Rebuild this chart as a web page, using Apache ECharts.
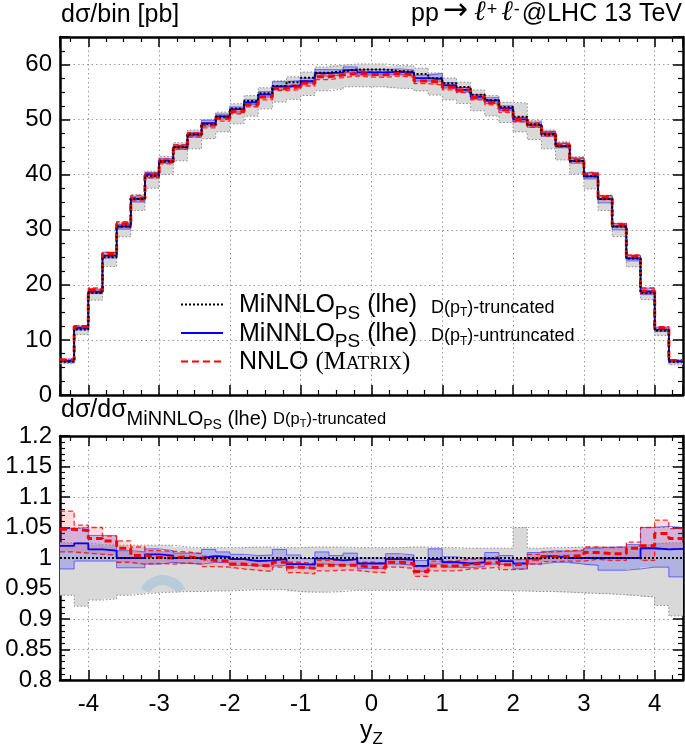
<!DOCTYPE html>
<html>
<head>
<meta charset="utf-8">
<title>y_Z distribution</title>
<script src="https://cdn.jsdelivr.net/npm/echarts@6/dist/echarts.min.js"></script>
<style>
html, body { margin: 0; padding: 0; background: #fff; }
#chart { width: 685px; height: 744px; }
</style>
</head>
<body>
<div id="chart"></div>
<script>
// bin edges in y_Z
const binEdges = [-4.4, -4.2, -4.0, -3.8, -3.6, -3.4, -3.2, -3.0, -2.8, -2.6, -2.4, -2.2, -2.0, -1.8, -1.6, -1.4, -1.2, -1.0, -0.8, -0.6, -0.4, -0.2,
  0, 0.2, 0.4, 0.6, 0.8, 1.0, 1.2, 1.4, 1.6, 1.8, 2.0, 2.2, 2.4, 2.6, 2.8, 3.0, 3.2, 3.4, 3.6, 3.8, 4.0, 4.2, 4.4]

// dσ/bin [pb], MiNNLO_PS (lhe) D(pT)-truncated
const topTrunc = [6.05, 11.9, 18.5, 25.0, 30.6, 35.6, 39.8, 42.4, 45.0, 47.3, 49.2, 50.5, 52.0, 53.4, 54.8, 56.1, 56.8, 57.6, 58.5, 58.8, 59.1, 59.1,
  59.1, 58.8, 58.7, 58.3, 57.5, 56.6, 55.9, 54.5, 53.5, 52.3, 50.5, 49.1, 47.3, 45.2, 42.5, 39.7, 35.6, 30.6, 24.8, 18.5, 11.7, 6.05]

// ratios to the truncated MiNNLO_PS central value
const truncRatio = [1, 1, 1, 1, 1, 1, 1, 1, 1, 1, 1, 1, 1, 1, 1, 1, 1, 1, 1, 1, 1, 1,
  1, 1, 1, 1, 1, 1, 1, 1, 1, 1, 1, 1, 1, 1, 1, 1, 1, 1, 1, 1, 1, 1]
const truncLo = [0.939, 0.921, 0.931, 0.933, 0.939, 0.941, 0.943, 0.944, 0.945, 0.945, 0.946, 0.946, 0.947, 0.948, 0.948, 0.948, 0.945, 0.944, 0.944, 0.945, 0.947, 0.947,
  0.947, 0.947, 0.948, 0.947, 0.947, 0.947, 0.947, 0.947, 0.947, 0.946, 0.946, 0.945, 0.945, 0.944, 0.943, 0.942, 0.941, 0.940, 0.938, 0.936, 0.922, 0.905]
const truncHi = [1.025, 1.025, 1.022, 1.021, 1.021, 1.021, 1.021, 1.021, 1.018, 1.017, 1.017, 1.017, 1.017, 1.018, 1.018, 1.017, 1.017, 1.018, 1.018, 1.018, 1.017, 1.017,
  1.017, 1.017, 1.018, 1.018, 1.017, 1.017, 1.016, 1.016, 1.016, 1.016, 1.050, 1.016, 1.017, 1.017, 1.018, 1.018, 1.018, 1.018, 1.020, 1.022, 1.025, 1.025]

// MiNNLO_PS (lhe) D(pT)-untruncated
const untruncRatio = [1.020, 1.024, 1.014, 1.012, 1.000, 1.000, 1.006, 1.004, 1.000, 1.000, 1.003, 1.002, 0.998, 0.995, 0.996, 0.998, 0.990, 0.989, 0.999, 0.996, 0.998, 0.991,
  0.991, 0.998, 0.997, 0.987, 0.998, 0.993, 0.991, 0.993, 0.999, 0.995, 0.991, 0.999, 1.003, 1.000, 1.000, 1.000, 1.000, 1.000, 1.000, 1.016, 1.014, 1.015]
const untruncLo = [0.982, 0.995, 0.995, 0.995, 0.984, 0.984, 0.990, 0.993, 0.991, 0.990, 0.993, 0.992, 0.988, 0.987, 0.987, 0.988, 0.984, 0.983, 0.990, 0.988, 0.990, 0.983,
  0.983, 0.990, 0.988, 0.978, 0.990, 0.985, 0.984, 0.986, 0.990, 0.988, 0.982, 0.990, 0.993, 0.993, 0.990, 0.988, 0.980, 0.980, 0.982, 0.985, 0.985, 0.969]
const untruncHi = [1.048, 1.050, 1.037, 1.037, 1.012, 1.010, 1.015, 1.012, 1.008, 1.008, 1.014, 1.010, 1.006, 1.004, 1.005, 1.014, 1.005, 0.999, 1.010, 1.004, 1.008, 1.000,
  1.000, 1.007, 1.005, 0.996, 1.015, 1.002, 0.999, 1.001, 1.009, 1.004, 0.998, 1.009, 1.012, 1.011, 1.012, 1.016, 1.018, 1.018, 1.022, 1.050, 1.052, 1.050]

// NNLO (MATRIX)
const nnloRatio = [1.047, 1.045, 1.032, 1.028, 1.016, 1.004, 1.001, 1.000, 1.002, 0.999, 0.996, 0.995, 0.990, 0.988, 0.987, 0.993, 0.985, 0.983, 0.988, 0.988, 0.988, 0.985,
  0.984, 0.993, 0.991, 0.978, 0.987, 0.987, 0.990, 0.991, 0.993, 0.989, 0.990, 0.998, 1.002, 1.003, 1.004, 1.009, 1.007, 1.007, 1.016, 1.020, 1.040, 1.032]
const nnloLo = [1.010, 1.008, 1.006, 1.005, 0.993, 0.990, 0.991, 0.990, 0.992, 0.990, 0.986, 0.985, 0.982, 0.980, 0.978, 0.985, 0.976, 0.974, 0.979, 0.980, 0.980, 0.977,
  0.976, 0.985, 0.983, 0.970, 0.979, 0.979, 0.982, 0.983, 0.985, 0.981, 0.982, 0.990, 0.994, 0.995, 0.995, 0.998, 0.996, 0.996, 1.000, 0.996, 1.015, 1.015]
const nnloHi = [1.077, 1.054, 1.050, 1.036, 1.028, 1.018, 1.012, 1.011, 1.010, 1.007, 1.003, 1.002, 0.998, 0.996, 0.995, 1.000, 0.993, 0.991, 0.996, 0.996, 0.997, 0.993,
  0.992, 1.001, 0.999, 0.986, 0.995, 0.995, 0.998, 0.999, 1.002, 0.997, 0.998, 1.006, 1.010, 1.012, 1.013, 1.018, 1.017, 1.018, 1.026, 1.050, 1.062, 1.048]

const xTicks = [-4, -3, -2, -1, 0, 1, 2, 3, 4]

const FONT = "'Liberation Sans', Arial, sans-serif"
const SERIF = "'Liberation Serif', 'Times New Roman', serif"

const chart = echarts.init(document.getElementById("chart"))

// ratio -> absolute value in the upper panel
const toTop = ratio => ratio.map((r, i) => r * topTrunc[i])

const stepPoints = vals => {
  const pts = vals.map((v, i) => [binEdges[i], v])
  pts.push([binEdges[vals.length], vals[vals.length - 1]])
  return pts
}

const stepLine = (name, vals, axis, lineStyle) => ({
  name,
  type: "line",
  xAxisIndex: axis,
  yAxisIndex: axis,
  step: "end",
  symbol: "none",
  showSymbol: false,
  silent: true,
  data: stepPoints(vals),
  itemStyle: { color: lineStyle.color },
  lineStyle
})

// filled band drawn as one stepped polygon (hi edge left->right, lo edge back)
const band = (name, lo, hi, axis, fill) => ({
  name,
  type: "custom",
  xAxisIndex: axis,
  yAxisIndex: axis,
  silent: true,
  clip: true,
  data: lo.map((v, i) => [binEdges[i], binEdges[i + 1], v, hi[i]]),
  encode: { x: [0, 1], y: [2, 3] },
  renderItem: (params, api) => {
    if (params.dataIndex !== 0) return null
    const upper = []
    const lower = []
    hi.forEach((v, i) => {
      upper.push(api.coord([binEdges[i], v]), api.coord([binEdges[i + 1], v]))
    })
    lo.forEach((v, i) => {
      lower.push(api.coord([binEdges[i], v]), api.coord([binEdges[i + 1], v]))
    })
    return {
      type: "polygon",
      shape: { points: upper.concat(lower.reverse()) },
      style: { fill, stroke: null, lineWidth: 0 }
    }
  }
})

const grayEdge = { color: "#8a8a8a", width: 1, type: [1.5, 2] }
const blueEdge = { color: "rgba(40,40,255,0.6)", width: 1 }
const redEdge = { color: "rgba(255,0,0,0.8)", width: 1.3, type: [5, 3] }

// one panel: axis index 0 = upper, 1 = ratio
const panelSeries = (axis, conv, tag) => [
  band("grayband" + tag, conv(truncLo), conv(truncHi), axis, "#d9d9d9"),
  stepLine("graylo" + tag, conv(truncLo), axis, grayEdge),
  stepLine("grayhi" + tag, conv(truncHi), axis, grayEdge),
  band("blueband" + tag, conv(untruncLo), conv(untruncHi), axis, "rgba(60,60,255,0.25)"),
  band("redband" + tag, conv(nnloLo), conv(nnloHi), axis, "rgba(255,40,40,0.17)"),
  stepLine("bluelo" + tag, conv(untruncLo), axis, blueEdge),
  stepLine("bluehi" + tag, conv(untruncHi), axis, blueEdge),
  stepLine("redlo" + tag, conv(nnloLo), axis, redEdge),
  stepLine("redhi" + tag, conv(nnloHi), axis, redEdge),
  stepLine("untrunc" + tag, conv(untruncRatio), axis, { color: "#0000ff", width: 1.8 }),
  stepLine("nnlo" + tag, conv(nnloRatio), axis, { color: "#ff0000", width: 3, type: [7, 4] }),
  stepLine("trunc" + tag, conv(truncRatio), axis, { color: "#000", width: 2, type: [2, 2] })
]

const frameLine = { show: true, onZero: false, lineStyle: { color: "#000", width: 2.5 } }
const gridDots = { show: true, lineStyle: { color: "#9a9a9a", width: 1, type: [1.5, 3] } }

const xAxis = (grid, position, withLabels) => ({
  type: "value",
  gridIndex: grid,
  position,
  min: -4.4,
  max: 4.4,
  splitNumber: 9,
  axisLine: frameLine,
  axisTick: { show: true, inside: true, length: 10, lineStyle: { color: "#000", width: 1.5 } },
  minorTick: { show: true, splitNumber: 4, length: 5, lineStyle: { color: "#000", width: 1.2 } },
  splitLine: position === "bottom" ? gridDots : { show: false },
  axisLabel: {
    show: withLabels,
    margin: 12,
    fontSize: 24,
    fontFamily: FONT,
    color: "#000",
    formatter: v => (xTicks.includes(Math.round(v * 1000) / 1000) ? String(Math.round(v)) : "")
  }
})

const yAxis = (grid, position, opts) => ({
  type: "value",
  gridIndex: grid,
  position,
  min: opts.min,
  max: opts.max,
  interval: opts.interval,
  axisLine: frameLine,
  axisTick: { show: true, inside: true, length: 10, lineStyle: { color: "#000", width: 1.5 } },
  minorTick: { show: true, splitNumber: opts.minor, length: 5, lineStyle: { color: "#000", width: 1.2 } },
  splitLine: position === "left" ? gridDots : { show: false },
  axisLabel: {
    show: position === "left",
    margin: 8,
    fontSize: 24,
    fontFamily: FONT,
    color: "#000",
    formatter: opts.fmt
  }
})

const topY = { min: 0, max: 65, interval: 10, minor: 4, fmt: v => (v <= 60 ? String(v) : "") }
const ratioY = { min: 0.8, max: 1.2, interval: 0.05, minor: 5, fmt: v => String(parseFloat(v.toFixed(2))) }

// text pieces placed on a common baseline: padding top = baseline - 0.85 * size
const piece = (size, baseline, family, extra) =>
  Object.assign({ fontSize: size, lineHeight: size, fontFamily: family || FONT, fontWeight: "normal", color: "#000",
    verticalAlign: "top", padding: [Math.max(0, baseline - 0.85 * size), 0, 0, 0] }, extra || {})

const legendRich = {
  a0: piece(25, 22, FONT, { padding: [22 - 0.85 * 25, 0, 0, 11] }),
  a: piece(25, 22),
  s: piece(19, 28),
  d: piece(18, 22),
  t: piece(12, 25),
  m: piece(25, 22, SERIF),
  ms: piece(19, 22, SERIF)
}
const legendText = {
  trunc: "{a0|MiNNLO}{s|PS}{a| (lhe)  }{d|D(p}{t|T}{d|)-truncated}",
  untrunc: "{a0|MiNNLO}{s|PS}{a| (lhe)  }{d|D(p}{t|T}{d|)-untruncated}",
  nnlo: "{a0|NNLO }{m|(M}{ms|ATRIX}{m|)}"
}

const option = {
  animation: false,
  backgroundColor: "#fff",
  title: [
    {
      text: "dσ/bin [pb]",
      left: 61,
      top: 2,
      padding: 0,
      textStyle: { fontFamily: FONT, fontSize: 25, fontWeight: "normal", color: "#000", lineHeight: 26 }
    },
    {
      text: "{n|pp}{r|→}{l|ℓ}{p|+}{l|ℓ}{p|-}{n|@LHC 13 TeV}",
      right: 3,
      top: 2,
      padding: 0,
      textStyle: {
        fontWeight: "normal",
        rich: {
          n: piece(25, 21),
          r: piece(30, 20, "'DejaVu Sans', sans-serif", { padding: [20 - 0.85 * 30, 4, 0, 4] }),
          l: piece(28, 21, "'DejaVu Serif', serif", { fontStyle: "italic", padding: [21 - 0.85 * 28, 0, 0, 2] }),
          p: piece(18, 14, FONT, { padding: [14 - 0.85 * 18, 2, 0, 1] })
        }
      }
    },
    {
      text: "{a|dσ/dσ}{b|MiNNLO}{c|PS}{b| (lhe) }{d|D(p}{e|T}{d|)-truncated}",
      left: 61,
      top: 397,
      padding: 0,
      textStyle: {
        fontWeight: "normal",
        rich: { a: piece(25, 22), b: piece(20, 29), c: piece(14, 33), d: piece(16.5, 28), e: piece(11, 31) }
      }
    }
  ],
  legend: {
    orient: "vertical",
    left: 180,
    top: 292,
    padding: 0,
    itemWidth: 42,
    itemHeight: 14,
    itemGap: -2.4,
    selectedMode: false,
    itemStyle: { opacity: 0 },
    data: ["trunc", "untrunc", "nnlo"],
    formatter: name => legendText[name],
    textStyle: { rich: legendRich }
  },
  grid: [
    { left: 60, right: 2, top: 37, height: 358, outerBoundsMode: "none" },
    { left: 60, right: 2, top: 436, height: 244, outerBoundsMode: "none" }
  ],
  xAxis: [
    xAxis(0, "bottom", false),
    xAxis(1, "bottom", true),
    xAxis(0, "top", false),
    xAxis(1, "top", false)
  ],
  yAxis: [
    yAxis(0, "left", topY),
    yAxis(1, "left", ratioY),
    yAxis(0, "right", topY),
    yAxis(1, "right", ratioY)
  ],
  graphic: [
    {
      type: "arc",
      silent: true,
      z: 10,
      shape: { cx: 163, cy: 600, r: 20, startAngle: Math.PI + 0.47, endAngle: 2 * Math.PI - 0.47 },
      style: { stroke: "rgba(120,180,215,0.35)", lineWidth: 10, fill: null }
    }
  ],
  series: [...panelSeries(0, toTop, ""), ...panelSeries(1, r => r, "_r")]
}

option.xAxis[1].name = "{y|y}{z|Z}"
option.xAxis[1].nameLocation = "middle"
option.xAxis[1].nameGap = 38
option.xAxis[1].nameTextStyle = { rich: { y: piece(25, 22), z: piece(17, 27) } }

chart.setOption(option)
</script>
</body>
</html>
